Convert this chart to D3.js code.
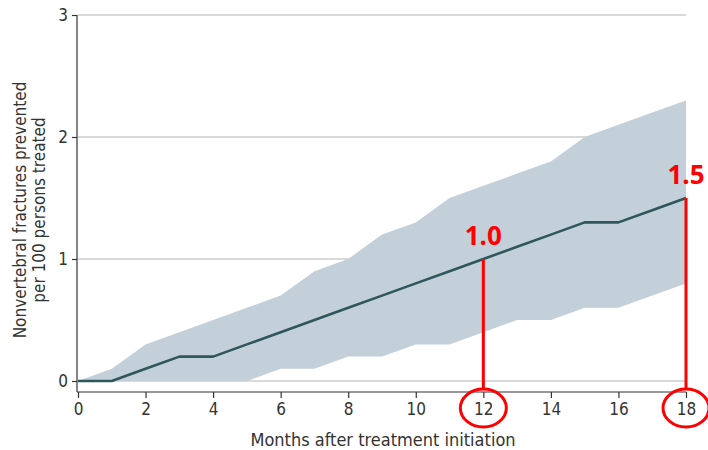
<!DOCTYPE html>
<html>
<head>
<meta charset="utf-8">
<script src="https://cdn.jsdelivr.net/npm/d3@7"></script>
<style>
  html, body { margin: 0; padding: 0; background: #fff; }
  svg { display: block; }
  .cond { font-family: "DejaVu Sans Condensed", "Liberation Sans Narrow", "DejaVu Sans", sans-serif; font-stretch: condensed; }
</style>
</head>
<body>
<svg id="chart" width="708" height="450"></svg>
<script>
// Months after treatment initiation
const months = [0,1,2,3,4,5,6,7,8,9,10,11,12,13,14,15,16,17,18];
// Nonvertebral fractures prevented per 100 persons treated (estimate)
const prevented = [0,0,0.1,0.2,0.2,0.3,0.4,0.5,0.6,0.7,0.8,0.9,1.0,1.1,1.2,1.3,1.3,1.4,1.5];
// Confidence band
const upper = [0,0.1,0.3,0.4,0.5,0.6,0.7,0.9,1.0,1.2,1.3,1.5,1.6,1.7,1.8,2.0,2.1,2.2,2.3];
const lower = [0,0,0,0,0,0,0.1,0.1,0.2,0.2,0.3,0.3,0.4,0.5,0.5,0.6,0.6,0.7,0.8];
const xTicks = [0,2,4,6,8,10,12,14,16,18];
const yTicks = [0,1,2,3];
// Highlighted time points
const highlightMonths = [12, 18];

const svg = d3.select("#chart");
const x = d3.scaleLinear().domain([0, 18]).range([78, 686]);
const y = d3.scaleLinear().domain([0, 3]).range([381, 15]);
const axisY = 392;

// gridlines
svg.append("g").selectAll("line").data(yTicks).join("line")
  .attr("x1", x(0)).attr("x2", x(18))
  .attr("y1", d => y(d)).attr("y2", d => y(d))
  .attr("stroke", "#d9d9d9").attr("stroke-width", 2);

// confidence band
const pts = months.map((m, i) => ({m, lo: lower[i], hi: upper[i], v: prevented[i]}));
svg.append("path").datum(pts)
  .attr("fill", "#c3cfd9")
  .attr("d", d3.area().x(d => x(d.m)).y0(d => y(d.lo)).y1(d => y(d.hi)));

// estimate line
svg.append("path").datum(pts)
  .attr("fill", "none").attr("stroke", "#2e575d").attr("stroke-width", 2.6)
  .attr("stroke-linejoin", "round")
  .attr("d", d3.line().x(d => x(d.m)).y(d => y(d.v)));

// y axis
const gy = svg.append("g").attr("transform", `translate(${x(0) - 1},0)`)
  .call(d3.axisLeft(y).tickValues(yTicks).tickSize(5).tickPadding(4).tickFormat(d3.format("d")));
gy.select(".domain").attr("d", `M0,${y(3)}V${axisY}`).attr("stroke", "#333").attr("stroke-width", 1.2);
gy.selectAll(".tick line").attr("stroke", "#333").attr("stroke-width", 1.2);
gy.selectAll(".tick text").attr("class", "cond").attr("font-size", 17).attr("fill", "#333");

// x axis
const gx = svg.append("g").attr("transform", `translate(0,${axisY})`)
  .call(d3.axisBottom(x).tickValues(xTicks).tickSize(6).tickPadding(5).tickFormat(d3.format("d")));
gx.select(".domain").attr("d", `M${x(0) - 1},0H${x(18)}`).attr("stroke", "#333").attr("stroke-width", 1.2);
gx.selectAll(".tick line").attr("stroke", "#333").attr("stroke-width", 1.2);
gx.selectAll(".tick text").attr("class", "cond").attr("font-size", 17).attr("fill", "#333");

// axis titles
svg.append("text").attr("class", "cond")
  .attr("x", 383).attr("y", 446).attr("text-anchor", "middle")
  .attr("font-size", 18).attr("fill", "#333")
  .text("Months after treatment initiation");
const yt = svg.append("text").attr("class", "cond")
  .attr("transform", `translate(26,${y(1.5) + 12}) rotate(-90)`)
  .attr("text-anchor", "middle").attr("font-size", 17).attr("fill", "#333");
yt.append("tspan").attr("x", 0).attr("dy", 0).text("Nonvertebral fractures prevented");
yt.append("tspan").attr("x", 0).attr("dy", 19).text("per 100 persons treated");

// highlighted values
const hl = svg.append("g");
highlightMonths.forEach(m => {
  const v = prevented[months.indexOf(m)];
  hl.append("line")
    .attr("x1", x(m)).attr("x2", x(m))
    .attr("y1", y(v)).attr("y2", 389)
    .attr("stroke", "#ff0000").attr("stroke-width", 3);
  hl.append("ellipse")
    .attr("cx", x(m)).attr("cy", 408).attr("rx", 23).attr("ry", 19)
    .attr("fill", "none").attr("stroke", "#ff0000").attr("stroke-width", 3);
  hl.append("text")
    .attr("x", x(m)).attr("y", y(v) - 14).attr("text-anchor", "middle")
    .attr("font-family", "'Open Sans', 'Liberation Sans', sans-serif")
    .attr("font-weight", "bold").attr("font-size", 26).attr("fill", "#ff0000")
    .text(d3.format(".1f")(v));
});
</script>
</body>
</html>
